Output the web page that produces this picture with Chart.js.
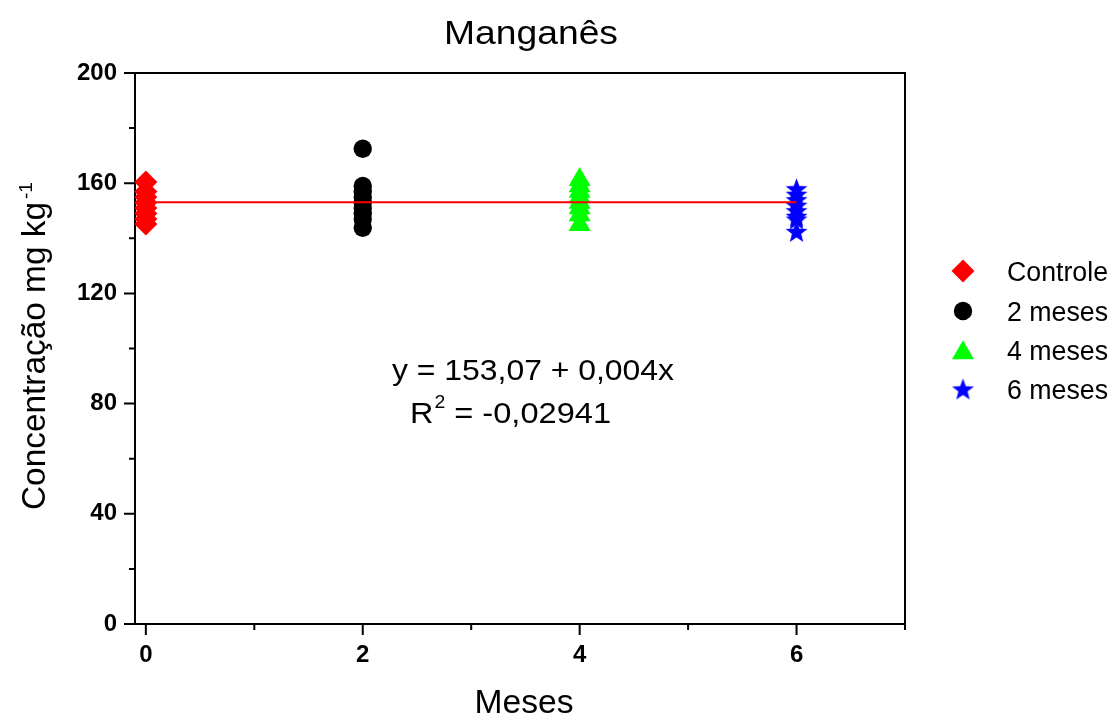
<!DOCTYPE html>
<html>
<head>
<meta charset="utf-8">
<title>Manganês</title>
<script src="https://cdn.jsdelivr.net/npm/chart.js@4/dist/chart.umd.min.js"></script>
<style>
  html, body { margin: 0; padding: 0; background: #ffffff; }
  canvas { display: block; }
</style>
</head>
<body>
<canvas id="chart" width="1113" height="718"></canvas>
<script>
// Manganese concentration (mg kg-1) per storage time (months)
const seriesNames = ['Controle', '2 meses', '4 meses', '6 meses'];
const seriesX = [0, 2, 4, 6];
const controle = [160.4, 157, 155, 153, 151, 149, 147, 145.2];
const meses2 = [172.5, 159, 157, 155, 153, 151, 149, 147, 143.8];
const meses4 = [161.3, 159, 157, 155, 153, 151, 148.5, 145];
const meses6 = [158, 156, 154, 152, 150, 148, 147, 142.5];

// Fitted line y = a + b x
const fitIntercept = 153.07;
const fitSlope = 0.004;
const fitRange = [0, 6];
const fitText = 'y = 153,07 + 0,004x';
const r2Text = ' = -0,02941';

// Axis ticks
const xMajorTicks = [0, 2, 4, 6];
const xMinorTicks = [1, 3, 5, 7];
const yMajorTicks = [0, 40, 80, 120, 160, 200];
const yMinorTicks = [20, 60, 100, 140, 180];

const FONT = '"Liberation Sans", Arial, Helvetica, sans-serif';

// Filled five-point star used as a point style
function makeStar(color, outer) {
  const inner = outer * 0.42;
  const size = Math.ceil(outer * 2 + 2);
  const c = document.createElement('canvas');
  c.width = size; c.height = size;
  const g = c.getContext('2d');
  const cx = size / 2, cy = size / 2 + outer * 0.095;
  g.beginPath();
  for (let i = 0; i < 10; i++) {
    const r = i % 2 === 0 ? outer : inner;
    const a = -Math.PI / 2 + i * Math.PI / 5;
    const px = cx + r * Math.cos(a), py = cy + r * Math.sin(a);
    if (i === 0) g.moveTo(px, py); else g.lineTo(px, py);
  }
  g.closePath();
  g.fillStyle = color;
  g.fill();
  return c;
}
const starImg = makeStar('#0000ff', 11.5);

const markerStyles = [
  { color: '#ff0000', style: 'rectRot', radius: 11.5 },
  { color: '#000000', style: 'circle', radius: 9.2 },
  { color: '#00ff00', style: 'triangle', radius: 12.7 },
  { color: '#0000ff', style: starImg, radius: 11.5 }
];

const seriesValues = [controle, meses2, meses4, meses6];

const pointDatasets = seriesValues.map((vals, i) => ({
  type: 'scatter',
  label: seriesNames[i],
  data: vals.map(v => ({ x: seriesX[i], y: v })),
  pointStyle: markerStyles[i].style,
  pointRadius: markerStyles[i].radius,
  pointHoverRadius: markerStyles[i].radius,
  backgroundColor: markerStyles[i].color,
  borderColor: markerStyles[i].color,
  borderWidth: 0,
  order: 1,
  clip: false
}));

const fitDataset = {
  type: 'line',
  label: 'fit',
  data: fitRange.map(x => ({ x: x, y: fitIntercept + fitSlope * x })),
  borderColor: '#ff0000',
  borderWidth: 2,
  pointRadius: 0,
  fill: false,
  order: -1
};

// Draw text horizontally stretched to a given width
function drawFitted(ctx, text, x, y, font, width, align) {
  ctx.save();
  ctx.font = font;
  const w = ctx.measureText(text).width;
  const s = width ? width / w : 1;
  let left = x;
  if (align === 'center') left = x - (w * s) / 2;
  else if (align === 'right') left = x - w * s;
  ctx.translate(left, y);
  ctx.scale(s, 1);
  ctx.textAlign = 'left';
  ctx.textBaseline = 'alphabetic';
  ctx.fillText(text, 0, 0);
  ctx.restore();
  return w * s;
}

function textWidth(ctx, text, font) {
  ctx.save();
  ctx.font = font;
  const w = ctx.measureText(text).width;
  ctx.restore();
  return w;
}

const framePlugin = {
  id: 'frame',
  beforeDatasetsDraw(chart) {
    const { ctx, chartArea: a, scales } = chart;
    ctx.save();
    ctx.strokeStyle = '#000000';
    ctx.lineWidth = 2;
    ctx.strokeRect(a.left, a.top, a.right - a.left, a.bottom - a.top);
    ctx.beginPath();
    xMajorTicks.concat(xMinorTicks).forEach(v => {
      const px = scales.x.getPixelForValue(v);
      const len = xMajorTicks.includes(v) ? 11 : 6;
      ctx.moveTo(px, a.bottom);
      ctx.lineTo(px, a.bottom + len);
    });
    yMajorTicks.concat(yMinorTicks).forEach(v => {
      const py = scales.y.getPixelForValue(v);
      const len = yMajorTicks.includes(v) ? 11 : 6;
      ctx.moveTo(a.left, py);
      ctx.lineTo(a.left - len, py);
    });
    ctx.stroke();
    ctx.restore();
  },
  afterDraw(chart) {
    const { ctx } = chart;
    ctx.save();
    ctx.fillStyle = '#000000';

    // Title
    drawFitted(ctx, 'Manganês', 531, 44, '34px ' + FONT, 174, 'center');

    // X axis title
    drawFitted(ctx, 'Meses', 524, 713, '33px ' + FONT, 99, 'center');

    // Y axis title with superscript
    ctx.save();
    ctx.translate(45, 510);
    ctx.rotate(-Math.PI / 2);
    ctx.font = '34px ' + FONT;
    ctx.textBaseline = 'alphabetic';
    ctx.textAlign = 'left';
    const main = 'Concentração mg kg';
    const mw = ctx.measureText(main).width;
    ctx.save();
    ctx.scale(308 / mw, 1);
    ctx.fillText(main, 0, 0);
    ctx.restore();
    ctx.font = '19px ' + FONT;
    ctx.fillText('-1', 308 + 3, -13);
    ctx.restore();

    // Regression equation
    const eqFont = '30px ' + FONT;
    drawFitted(ctx, fitText, 392, 380, eqFont, 282, 'left');
    const s = 1.08;
    let x = 410;
    const rw = textWidth(ctx, 'R', eqFont) * s;
    drawFitted(ctx, 'R', x, 423, eqFont, rw, 'left');
    x += rw + 1;
    const supFont = '18px ' + FONT;
    const tw = textWidth(ctx, '2', supFont) * s;
    drawFitted(ctx, '2', x, 408, supFont, tw, 'left');
    x += tw;
    drawFitted(ctx, r2Text, x, 423, eqFont, 611 - x, 'left');

    // Legend
    const rows = [271, 311, 350, 389];
    seriesNames.forEach((name, i) => {
      const m = markerStyles[i];
      ctx.save();
      ctx.fillStyle = m.color;
      ctx.strokeStyle = m.color;
      const yy = m.style === 'triangle' ? rows[i] + 3 : rows[i];
      Chart.helpers.drawPoint(ctx, { pointStyle: m.style, radius: m.radius, rotation: 0, borderWidth: 0 }, 963, yy);
      ctx.restore();
      drawFitted(ctx, name, 1007, rows[i] + 10, '27px ' + FONT, 101, 'left');
    });
    ctx.restore();
  }
};

const tickFont = { family: FONT, size: 24, weight: 'bold' };

new Chart(document.getElementById('chart'), {
  type: 'scatter',
  data: { datasets: [fitDataset].concat(pointDatasets) },
  options: {
    responsive: false,
    animation: false,
    events: [],
    layout: { padding: { top: 73, right: 208, left: 0, bottom: 0 } },
    plugins: {
      legend: { display: false },
      title: { display: false },
      tooltip: { enabled: false }
    },
    scales: {
      x: {
        type: 'linear',
        min: -0.1,
        max: 7,
        afterBuildTicks(scale) {
          scale.ticks = xMajorTicks.concat(xMinorTicks).sort((a, b) => a - b).map(v => ({ value: v }));
        },
        afterFit(scale) { scale.height = 94; },
        grid: { display: false, drawTicks: false },
        border: { display: false },
        ticks: {
          color: '#000000',
          font: tickFont,
          padding: 17,
          maxRotation: 0,
          autoSkip: false,
          callback: v => (xMajorTicks.includes(v) ? String(v) : '')
        }
      },
      y: {
        type: 'linear',
        min: 0,
        max: 200,
        afterBuildTicks(scale) {
          scale.ticks = yMajorTicks.concat(yMinorTicks).sort((a, b) => a - b).map(v => ({ value: v }));
        },
        afterFit(scale) { scale.width = 135; },
        grid: { display: false, drawTicks: false },
        border: { display: false },
        ticks: {
          color: '#000000',
          font: tickFont,
          padding: 18,
          autoSkip: false,
          callback: v => (yMajorTicks.includes(v) ? String(v) : '')
        }
      }
    }
  },
  plugins: [framePlugin]
});
</script>
</body>
</html>
